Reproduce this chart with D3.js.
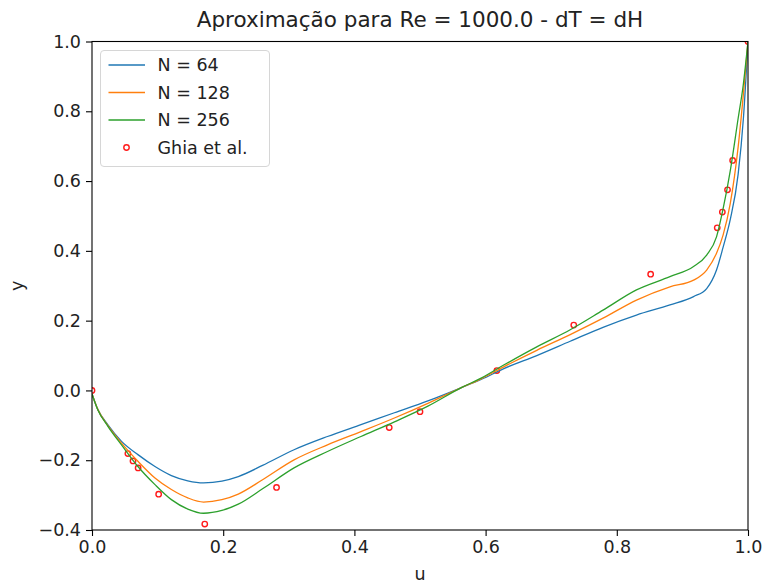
<!DOCTYPE html>
<html>
<head>
<meta charset="utf-8">
<script src="https://cdn.jsdelivr.net/npm/d3@7/dist/d3.min.js"></script>
<style>
  html, body { margin: 0; padding: 0; background: #fff; }
  svg { display: block; font-family: 'DejaVu Sans', sans-serif; }
</style>
</head>
<body>
<div id="chart"></div>
<script>
// grid positions where the curves were read
const xs = [0, 0.009, 0.024, 0.045, 0.070, 0.096, 0.121, 0.146, 0.170, 0.198, 0.223, 0.26,
  0.308, 0.359, 0.410, 0.461, 0.512, 0.563, 0.594, 0.627, 0.678, 0.729, 0.779, 0.830,
  0.881, 0.917, 0.937, 0.952, 0.962, 0.973, 0.985, 0.993, 1.0];

const u64 = [-0.010, -0.055, -0.098, -0.146, -0.184, -0.218, -0.244, -0.259, -0.265, -0.260, -0.247, -0.215,
  -0.170, -0.132, -0.098, -0.064, -0.030, 0.008, 0.032, 0.062, 0.100, 0.141, 0.181, 0.216,
  0.245, 0.269, 0.292, 0.345, 0.410, 0.490, 0.620, 0.780, 1.0];

const u128 = [-0.010, -0.055, -0.100, -0.151, -0.203, -0.251, -0.284, -0.308, -0.320, -0.313, -0.297, -0.256,
  -0.199, -0.156, -0.118, -0.079, -0.037, 0.008, 0.034, 0.067, 0.115, 0.160, 0.207, 0.259,
  0.297, 0.316, 0.345, 0.393, 0.445, 0.536, 0.698, 0.850, 1.0];

const u256 = [-0.010, -0.056, -0.102, -0.156, -0.218, -0.270, -0.313, -0.340, -0.352, -0.344, -0.326, -0.282,
  -0.222, -0.175, -0.132, -0.090, -0.045, 0.008, 0.036, 0.072, 0.125, 0.174, 0.230, 0.288,
  0.326, 0.355, 0.388, 0.440, 0.520, 0.630, 0.780, 0.879, 1.0];

// Ghia et al. reference points
const ghiaX = [0.0, 0.0547, 0.0625, 0.0703, 0.1016, 0.1719, 0.2813, 0.4531, 0.5, 0.6172,
  0.7344, 0.8516, 0.9531, 0.9609, 0.9688, 0.9766, 1.0];
const ghiaU = [0.0, -0.18109, -0.20196, -0.2222, -0.2973, -0.38289, -0.27805, -0.10648, -0.0608, 0.05702,
  0.18719, 0.33304, 0.46604, 0.51117, 0.57492, 0.65928, 1.0];

const seriesNames = ['N = 64', 'N = 128', 'N = 256'];
const seriesColors = ['#1f77b4', '#ff7f0e', '#2ca02c'];
const xTicks = [0, 0.2, 0.4, 0.6, 0.8, 1.0];
const yTicks = [-0.4, -0.2, 0, 0.2, 0.4, 0.6, 0.8, 1.0];

const W = 764, H = 586;
const m = { left: 92, right: 16, top: 41.5, bottom: 56 };

const svg = d3.select('#chart').append('svg')
  .attr('width', W).attr('height', H);

const x = d3.scaleLinear().domain([0, 1]).range([m.left, W - m.right]);
const y = d3.scaleLinear().domain([-0.4, 1.0]).range([H - m.bottom, m.top]);

svg.append('clipPath').attr('id', 'plot-clip')
  .append('rect')
  .attr('x', x(0)).attr('y', y(1))
  .attr('width', x(1) - x(0)).attr('height', y(-0.4) - y(1));

const plotG = svg.append('g').attr('clip-path', 'url(#plot-clip)');

// reference points (drawn below the lines, like matplotlib's zorder)
plotG.selectAll('circle.ghia')
  .data(ghiaX.map((v, i) => [v, ghiaU[i]]))
  .join('circle').attr('class', 'ghia')
  .attr('cx', d => x(d[0])).attr('cy', d => y(d[1])).attr('r', 2.7)
  .attr('fill', 'none').attr('stroke', '#ff1a1a').attr('stroke-width', 1.4);

const line = d3.line()
  .x(d => x(d[0])).y(d => y(d[1]))
  .curve(d3.curveMonotoneX);

[u64, u128, u256].forEach((vals, i) => {
  plotG.append('path')
    .datum(xs.map((v, j) => [v, vals[j]]))
    .attr('d', line)
    .attr('fill', 'none')
    .attr('stroke', seriesColors[i])
    .attr('stroke-width', 1.3);
});

// axes
const fs = 17.5;
const xAxis = d3.axisBottom(x).tickValues(xTicks).tickFormat(d3.format('.1f'))
  .tickSize(6).tickPadding(5);
const yAxis = d3.axisLeft(y).tickValues(yTicks)
  .tickFormat(d => d3.format('.1f')(d).replace('-', '\u2212'))
  .tickSize(6).tickPadding(5);

const gx = svg.append('g').attr('transform', `translate(0,${y(-0.4)})`).call(xAxis);
const gy = svg.append('g').attr('transform', `translate(${x(0)},0)`).call(yAxis);
[gx, gy].forEach(g => {
  g.select('.domain').remove();
  g.selectAll('line').attr('stroke', '#000').attr('stroke-width', 1.1);
  g.selectAll('text').attr('fill', '#222').attr('font-size', fs)
    .attr('font-family', 'DejaVu Sans');
});

// spines
svg.append('rect')
  .attr('x', x(0)).attr('y', y(1))
  .attr('width', x(1) - x(0)).attr('height', y(-0.4) - y(1))
  .attr('fill', 'none').attr('stroke', '#000').attr('stroke-width', 1.1);

// title and labels
svg.append('text').text('Aproximação para Re = 1000.0 - dT = dH')
  .attr('x', (x(0) + x(1)) / 2).attr('y', 27)
  .attr('text-anchor', 'middle').attr('font-size', 21.5).attr('fill', '#222');

svg.append('text').text('u')
  .attr('x', (x(0) + x(1)) / 2).attr('y', 580)
  .attr('text-anchor', 'middle').attr('font-size', fs).attr('fill', '#222');

svg.append('text').text('y')
  .attr('transform', `translate(23,${(y(1) + y(-0.4)) / 2}) rotate(-90)`)
  .attr('text-anchor', 'middle').attr('font-size', fs).attr('fill', '#222');

// legend
const lg = svg.append('g').attr('transform', 'translate(100.5,50.5)');
lg.append('rect')
  .attr('width', 169).attr('height', 116).attr('rx', 3.5)
  .attr('fill', '#fff').attr('fill-opacity', 0.8)
  .attr('stroke', '#d6d6d6').attr('stroke-width', 1);

const rowY = [14.5, 42, 69.5, 97];
seriesNames.forEach((name, i) => {
  lg.append('line')
    .attr('x1', 8).attr('x2', 44.5).attr('y1', rowY[i]).attr('y2', rowY[i])
    .attr('stroke', seriesColors[i]).attr('stroke-width', 1.3);
  lg.append('text').text(name)
    .attr('x', 57).attr('y', rowY[i]).attr('dy', '0.36em')
    .attr('font-size', fs).attr('fill', '#222');
});
lg.append('circle')
  .attr('cx', 26).attr('cy', rowY[3]).attr('r', 2.7)
  .attr('fill', 'none').attr('stroke', '#ff1a1a').attr('stroke-width', 1.4);
lg.append('text').text('Ghia et al.')
  .attr('x', 57).attr('y', rowY[3]).attr('dy', '0.36em')
  .attr('font-size', fs).attr('fill', '#222');
</script>
</body>
</html>
